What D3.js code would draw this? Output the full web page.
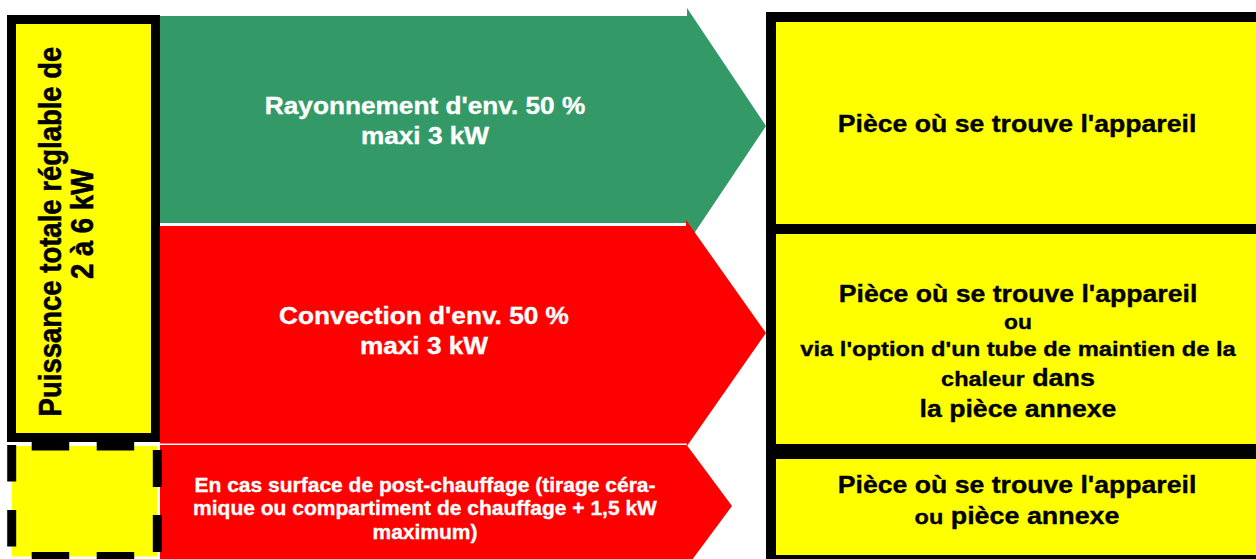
<!DOCTYPE html>
<html>
<head>
<meta charset="utf-8">
<script src="https://cdn.jsdelivr.net/npm/d3@7"></script>
<style>
  html, body { margin: 0; padding: 0; background: #fff; }
  svg { display: block; }
  text { font-family: "Liberation Sans", Arial, sans-serif; font-weight: bold; }
</style>
</head>
<body>
<div id="chart"></div>
<script>
// labels of the diagram
var powerLabel = ["Puissance totale réglable de", "2 à 6 kW"];
var radiationLabel = ["Rayonnement d'env. 50 %", "maxi 3 kW"];
var convectionLabel = ["Convection d'env. 50 %", "maxi 3 kW"];
var postHeatLabel = [
  "En cas surface de post-chauffage (tirage céra-",
  "mique ou compartiment de chauffage + 1,5 kW",
  "maximum)"
];
var room1Label = [["Pièce où se trouve l'appareil"]];
var room2Label = [
  ["Pièce où se trouve l'appareil"],
  ["ou"],
  ["via l'option d'un tube de maintien de la"],
  ["chaleur", " dans"],
  ["la pièce annexe"]
];
var room3Label = [["Pièce où se trouve l'appareil"], ["ou", " pièce annexe"]];

var width = 1256,
  height = 559;

var svg = d3
  .select('#chart')
  .append('svg')
  .attr('width', width)
  .attr('height', height);

var line = d3.line();

// arrows (drawn first, boxes go on top)
var arrows = [
  { fill: '#339966', pts: [[160, 16], [687, 16], [687, 8], [766, 126], [687, 244], [687, 223], [160, 223]] },
  { fill: '#ff0000', pts: [[160, 226], [686, 226], [686, 220], [766, 333], [687, 446], [687, 443.5], [160, 443.5]] },
  { fill: '#ff0000', pts: [[160, 445], [686, 445], [686, 444], [732, 506], [686, 568], [686, 570], [160, 570]] }
];

svg
  .selectAll('.arrow')
  .data(arrows)
  .enter()
  .append('path')
  .attr('class', 'arrow')
  .attr('d', function (d) {
    return line(d.pts) + 'Z';
  })
  .style('fill', function (d) {
    return d.fill;
  });

// left box
svg
  .append('rect')
  .attr('x', 11.5)
  .attr('y', 19.5)
  .attr('width', 144)
  .attr('height', 418)
  .style('fill', '#ffff00')
  .style('stroke', '#000')
  .style('stroke-width', 9);

// dashed box under it
var dashed = { x0: 11.7, x1: 157.3, y0: 446, y1: 556.5 };
svg
  .append('rect')
  .attr('x', dashed.x0)
  .attr('y', dashed.y0)
  .attr('width', dashed.x1 - dashed.x0)
  .attr('height', dashed.y1 - dashed.y0)
  .style('fill', '#ffff00');

var sides = [
  { a: [dashed.x0, dashed.y0], b: [dashed.x1, dashed.y0], dash: '37.5 27.5', off: 45 },
  { a: [dashed.x0, dashed.y1], b: [dashed.x1, dashed.y1], dash: '37.5 27.5', off: 45 },
  { a: [dashed.x0, dashed.y0 - 1], b: [dashed.x0, dashed.y1], dash: '36.5 28.5', off: 0 },
  { a: [dashed.x1, dashed.y0], b: [dashed.x1, dashed.y1 + 3], dash: '37 28', off: 61 }
];
svg
  .selectAll('.dash')
  .data(sides)
  .enter()
  .append('path')
  .attr('class', 'dash')
  .attr('d', function (d) {
    return line([d.a, d.b]);
  })
  .style('fill', 'none')
  .style('stroke', '#000')
  .style('stroke-width', 9)
  .style('stroke-dasharray', function (d) {
    return d.dash;
  })
  .style('stroke-dashoffset', function (d) {
    return d.off;
  });

// right boxes
var boxes = [
  { y: 17, h: 212 },
  { y: 229, h: 220 },
  { y: 454, h: 106 }
];
svg
  .selectAll('.room')
  .data(boxes)
  .enter()
  .append('rect')
  .attr('class', 'room')
  .attr('x', 771)
  .attr('y', function (d) {
    return d.y;
  })
  .attr('width', 520)
  .attr('height', function (d) {
    return d.h;
  })
  .style('fill', '#ffff00')
  .style('stroke', '#000')
  .style('stroke-width', 10);

// text helper: lines of segments, each line gets a baseline, a size list and a x-stretch
function block(lines, cx, baselines, sizes, sx, color) {
  lines.forEach(function (segs, i) {
    if (typeof segs === 'string') segs = [segs];
    var t = svg
      .append('text')
      .attr('text-anchor', 'middle')
      .attr('transform', 'translate(' + cx + ',' + baselines[i] + ') scale(' + sx[i] + ',1)')
      .style('fill', color)
      .style('stroke', color)
      .style('stroke-width', 0.35);
    segs.forEach(function (s, j) {
      t.append('tspan')
        .style('font-size', sizes[i][j] + 'px')
        .text(s);
    });
  });
}

block(radiationLabel, 425, [113.5, 144], [[23], [23]], [1.14, 1.14], '#fff');
block(convectionLabel, 424, [324, 354], [[23], [23]], [1.14, 1.14], '#fff');
block(postHeatLabel, 425, [491.5, 515, 538.5], [[21], [21], [21]], [1, 1, 1], '#fff');

block(room1Label, 1017, [132], [[24]], [1.11], '#000');
block(room2Label, 1018, [302, 329, 356, 386, 417],
  [[24], [20], [21], [21, 24], [24]], [1.11, 1.14, 1.13, 1.12, 1.11], '#000');
block(room3Label, 1017, [493, 524], [[24], [21, 24]], [1.11, 1.12], '#000');

// rotated label in the left box
var rot = [
  { x: 61, y: 231.5 },
  { x: 93, y: 224 }
];
svg
  .selectAll('.power')
  .data(powerLabel)
  .enter()
  .append('text')
  .attr('class', 'power')
  .attr('text-anchor', 'middle')
  .attr('transform', function (d, i) {
    return 'translate(' + rot[i].x + ',' + rot[i].y + ') scale(1.12,1) rotate(-90)';
  })
  .style('font-size', '27.5px')
  .style('fill', '#000')
  .style('stroke', '#000')
  .style('stroke-width', 0.5)
  .text(function (d) {
    return d;
  });
</script>
</body>
</html>
